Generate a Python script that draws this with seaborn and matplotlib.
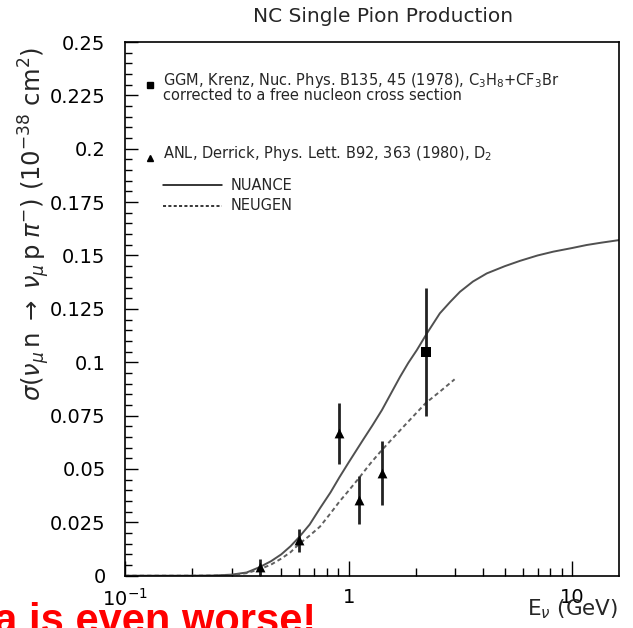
import numpy as np
import pandas as pd
import matplotlib
matplotlib.use("Agg")
import matplotlib.pyplot as plt
import seaborn as sns

# ---- data ----
nuance_E = [0.1, 0.2, 0.25, 0.3, 0.35, 0.4, 0.45, 0.5, 0.55, 0.6, 0.67, 0.745,
            0.83, 0.91, 1.0, 1.16, 1.28, 1.41, 1.55, 1.70, 1.85, 2.02, 2.24,
            2.56, 2.85, 3.15, 3.6, 4.15, 5.0, 5.85, 7.0, 8.24, 10.0, 11.6,
            13.5, 16.2]
nuance_sigma = [0.0, 0.0, 0.0001, 0.0005, 0.0015, 0.004, 0.0068, 0.010, 0.0138,
                0.018, 0.024, 0.0316, 0.039, 0.0461, 0.053, 0.0636, 0.0705,
                0.0776, 0.0855, 0.0932, 0.0997, 0.1057, 0.1135, 0.1229, 0.1283,
                0.1330, 0.1378, 0.1416, 0.1450, 0.1475, 0.1500, 0.1518, 0.1535,
                0.1549, 0.1560, 0.1572]

neugen_E = [0.1, 0.2, 0.25, 0.3, 0.35, 0.4, 0.45, 0.5, 0.55, 0.6, 0.67, 0.745,
            0.83, 0.91, 1.0, 1.11, 1.25, 1.41, 1.58, 1.76, 1.98, 2.21, 2.6, 2.98]
neugen_sigma = [0.0, 0.0, 0.0001, 0.0003, 0.0012, 0.003, 0.0052, 0.008, 0.011,
                0.0148, 0.0188, 0.023, 0.0292, 0.0347, 0.0398, 0.0456, 0.0525,
                0.0589, 0.0645, 0.0698, 0.0755, 0.0808, 0.0868, 0.092]

anl_E = [0.4, 0.6, 0.91, 1.11, 1.41]
anl_sigma = [0.004, 0.0165, 0.0667, 0.0355, 0.0482]
anl_err = [0.004, 0.0055, 0.0142, 0.0113, 0.015]

ggm_E = [2.23]
ggm_sigma = [0.105]
ggm_err = [0.030]

yticks = [0, 0.025, 0.05, 0.075, 0.1, 0.125, 0.15, 0.175, 0.2, 0.225, 0.25]
ytick_labels = ["0", "0.025", "0.05", "0.075", "0.1", "0.125", "0.15", "0.175",
                "0.2", "0.225", "0.25"]
xticks = [0.1, 1, 10]
xtick_labels = [r"$10^{-1}$", "1", "10"]

title = "NC Single Pion Production"
ggm_label = (r"GGM, Krenz, Nuc. Phys. B135, 45 (1978), C$_3$H$_8$+CF$_3$Br" "\n"
             "corrected to a free nucleon cross section")
anl_label = r"ANL, Derrick, Phys. Lett. B92, 363 (1980), D$_2$"
nuance_label = "NUANCE"
neugen_label = "NEUGEN"
overlay_text = "Data is even worse!"

# ---- figure ----
sns.set_style("white")
plt.rcParams["font.family"] = ["DejaVu Sans"]
plt.rcParams["mathtext.fontset"] = "dejavusans"

W, H = 633, 628
X0, X1, Y0, Y1 = 125, 619, 575.7, 42
fig = plt.figure(figsize=(W / 100, H / 100), dpi=100)
ax = fig.add_axes([X0 / W, 1 - Y0 / H, (X1 - X0) / W, (Y0 - Y1) / H])

df_nu = pd.DataFrame({"E": nuance_E, "s": nuance_sigma})
df_ng = pd.DataFrame({"E": neugen_E, "s": neugen_sigma})
sns.lineplot(data=df_nu, x="E", y="s", ax=ax, color="#505050", lw=1.4,
             estimator=None, sort=False)
sns.lineplot(data=df_ng, x="E", y="s", ax=ax, color="#606060", lw=1.4,
             estimator=None, sort=False, linestyle=(0, (2.2, 1.6)))

ax.errorbar(anl_E, anl_sigma, yerr=anl_err, fmt="none", ecolor="#222222",
            elinewidth=2, capsize=0)
ax.errorbar(ggm_E, ggm_sigma, yerr=ggm_err, fmt="none", ecolor="#222222",
            elinewidth=2, capsize=0)
sns.scatterplot(x=anl_E, y=anl_sigma, ax=ax, marker="^", color="black", s=50,
                edgecolor="black", linewidth=0, zorder=5)
sns.scatterplot(x=ggm_E, y=ggm_sigma, ax=ax, marker="s", color="black", s=50,
                edgecolor="black", linewidth=0, zorder=5)

ax.set_xscale("log")
ax.set_xlim(0.1, 16.2)
ax.set_ylim(0, 0.25)

ax.set_yticks(yticks)
ax.set_yticklabels(ytick_labels)
ax.set_yticks(np.arange(0, 0.2501, 0.005), minor=True)
ax.set_xticks(xticks)
ax.set_xticklabels(xtick_labels)
ax.xaxis.set_minor_locator(matplotlib.ticker.LogLocator(base=10, subs=np.arange(2, 10)))
ax.xaxis.set_minor_formatter(matplotlib.ticker.NullFormatter())

ax.tick_params(axis="both", which="both", direction="in", colors="black",
               labelcolor="black", labelsize=14)
ax.tick_params(axis="y", which="major", length=9, width=1, pad=14)
ax.tick_params(axis="y", which="minor", length=5, width=1)
ax.tick_params(axis="x", which="major", length=11, width=1, pad=9)
ax.tick_params(axis="x", which="minor", length=6, width=1)
ax.tick_params(left=True, bottom=True, right=False, top=False, which="both")

for sp in ax.spines.values():
    sp.set_color("black")
    sp.set_linewidth(1.2)

ax.set_xlabel(r"E$_\nu$ (GeV)", fontsize=15.5)
ax.xaxis.set_label_coords((618 - X0) / (X1 - X0), -(609 - Y0) / (Y0 - Y1))
ax.xaxis.label.set_ha("right")
ax.xaxis.label.set_va("center")

ax.set_ylabel(r"$\sigma(\nu_\mu\,\mathrm{n}\;\rightarrow\;\nu_\mu\,\mathrm{p}\;\pi^{-})\ (10^{-38}\ \mathrm{cm}^{2})$",
              fontsize=17.5)
ax.yaxis.set_label_coords((52 - X0) / (X1 - X0), (Y0 - 224) / (Y0 - Y1))

fig.text(383 / W, 1 - 16 / H, title, ha="center", va="center", fontsize=14.5)

# in-plot legend
def px(x, y):
    return (x / W, 1 - y / H)

fig.text(*px(163, 87), ggm_label, fontsize=10.5, va="center", ha="left",
         linespacing=0.9)
fig.text(*px(163, 153.5), anl_label, fontsize=10.5, va="center", ha="left")
fig.text(*px(231, 185), nuance_label, fontsize=10.5, va="center", ha="left")
fig.text(*px(231, 205), neugen_label, fontsize=10.5, va="center", ha="left")
fig.add_artist(matplotlib.lines.Line2D([163 / W, 222 / W], [1 - 185 / H] * 2,
                                       color="black", lw=1.1))
fig.add_artist(matplotlib.lines.Line2D([163 / W, 222 / W], [1 - 205.5 / H] * 2,
                                       color="black", lw=1.1, linestyle=(0, (2, 1.5))))
fig.add_artist(matplotlib.lines.Line2D([150 / W], [1 - 84.5 / H], marker="s",
                                       color="black", markersize=5, lw=0))
fig.add_artist(matplotlib.lines.Line2D([150 / W], [1 - 157.5 / H], marker="^",
                                       color="black", markersize=5, lw=0))

# white cover beyond the right border (text clipped at the frame)
fig.add_artist(matplotlib.patches.Rectangle((620 / W, 0.5), 1, 0.5,
                                            transform=fig.transFigure,
                                            facecolor="white", edgecolor="none",
                                            zorder=10))

fig.text(316 / W, 1 - 633 / H, overlay_text, ha="right", va="baseline",
         fontsize=30, fontweight="bold", color="#ff0000",
         family=["Liberation Sans", "DejaVu Sans"])

fig.savefig("out.png", dpi=100)
